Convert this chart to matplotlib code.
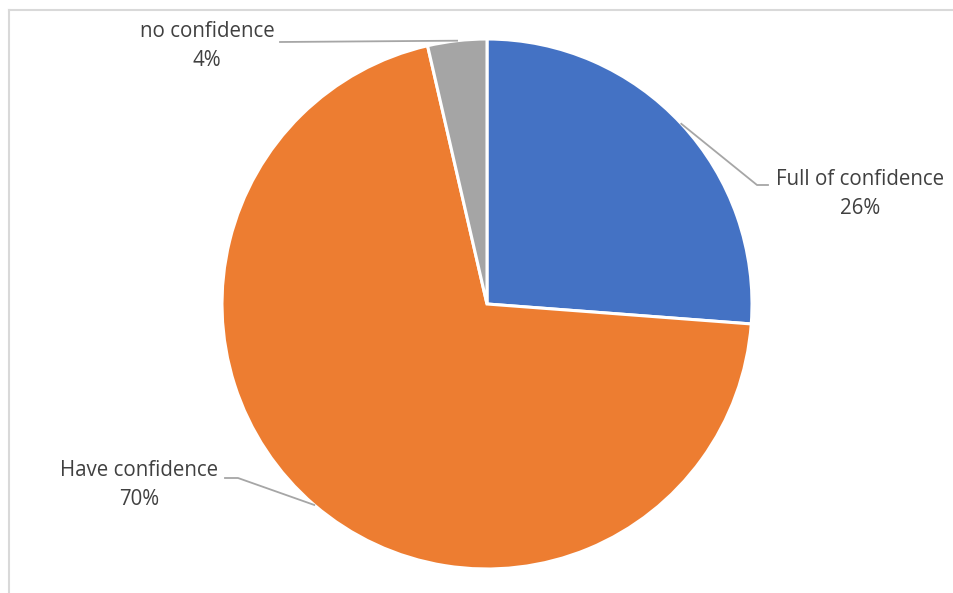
import numpy as np
import matplotlib
matplotlib.use("Agg")
import matplotlib.pyplot as plt
from matplotlib.lines import Line2D

categories = ["Full of confidence", "Have confidence", "no confidence"]
values = [26.2, 70.2, 3.6]
colors = ["#4472C4", "#ED7D31", "#A5A5A5"]

W, H = 954, 593
fig = plt.figure(figsize=(W / 100, H / 100), dpi=100)
ax = fig.add_axes([0, 0, 1, 1])

cx, cy, r = 487, H - 304, 265
wedges, _ = ax.pie(values, colors=colors, startangle=90, counterclock=False,
                   center=(cx, cy), radius=r, frame=True,
                   wedgeprops=dict(edgecolor="white", linewidth=2.2))
ax.set_xlim(0, W)
ax.set_ylim(0, H)
ax.set_aspect("equal")
ax.axis("off")

# chart border (top and left visible)
bx, by = 9.5 / W, 1 - 9.5 / H
fig.add_artist(Line2D([bx, 1.0], [by, by], transform=fig.transFigure,
                      color="#D9D9D9", linewidth=1.5))
fig.add_artist(Line2D([bx, bx], [0, by], transform=fig.transFigure,
                      color="#D9D9D9", linewidth=1.5))

font = dict(family="Open Sans", fontsize=14.8, color="#404040", ha="center", va="center",
            linespacing=1.45)
line_kw = dict(color="#A6A6A6", linewidth=1.3)

# label placements: (text center x, text center y, elbow points)
label_pos = {
    "Full of confidence": ((860, 194), [(757, 185), (768, 185)]),
    "Have confidence": ((139, 485), [(238, 478), (225, 478)]),
    "no confidence": ((207, 46), [(280, 42)]),
}

total = sum(values)
for w, name, v in zip(wedges, categories, values):
    mid = np.deg2rad((w.theta1 + w.theta2) / 2)
    sx, sy = cx + r * np.cos(mid), cy + r * np.sin(mid)
    (tx, ty), pts = label_pos[name]
    xs = [sx] + [p[0] for p in pts]
    ys = [sy] + [H - p[1] for p in pts]
    ax.plot(xs, ys, **line_kw)
    pct = round(v / total * 100)
    ax.text(tx, H - ty, f"{name}\n{pct}%", **font)

fig.savefig("out.png", dpi=100)
